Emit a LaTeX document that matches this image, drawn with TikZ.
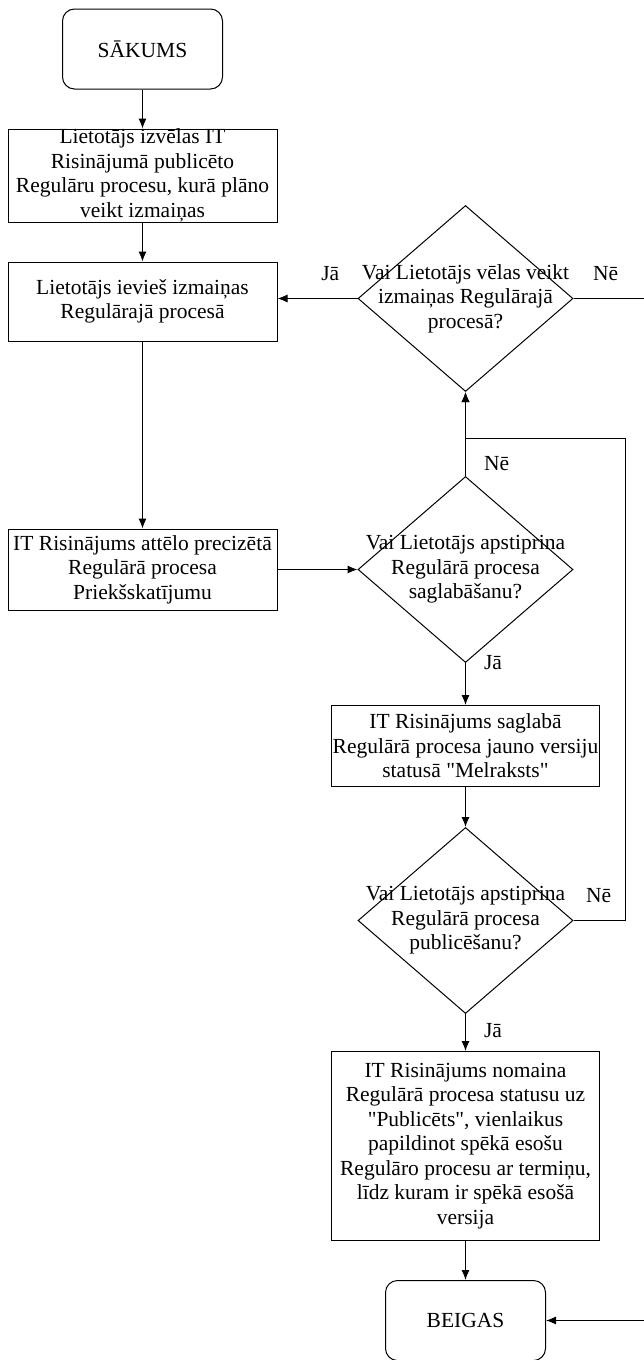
\documentclass[tikz,border=0pt]{standalone}
\usepackage{fontspec}
\setmainfont{Liberation Serif}
\usetikzlibrary{arrows.meta,positioning,shapes.geometric}

\begin{document}
\begin{tikzpicture}[x=1pt,y=-1pt,
  every node/.style={font=\fontsize{21.5}{24.5}\selectfont},
  terminal/.style={draw,rounded corners=12pt,minimum width=160pt,minimum height=80pt,align=center,line width=1pt},
  process/.style={draw,minimum width=269pt,align=center,inner sep=0pt,line width=1pt},
  decision/.style={draw,diamond,inner sep=0pt,minimum width=215pt,minimum height=186pt,line width=1pt},
  question/.style={align=center,inner sep=0pt},
  answer/.style={inner sep=0pt},
  arrow/.style={-{Latex[length=10pt,width=8pt]},line width=1pt}]
  \useasboundingbox (0,0) rectangle (644,1360);
  \node[terminal] (start) at (142.5,49) {SĀKUMS};
  \node[process,minimum height=93pt,below=39pt of start] (pick) {Lietotājs izvēlas IT\\Risinājumā publicēto\\Regulāru procesu, kurā plāno\\veikt izmaiņas};
  \node[process,minimum height=79pt,below=39pt of pick] (edit) {Lietotājs ievieš izmaiņas\\Regulārajā procesā};
  \node[process,minimum height=81pt,below=187pt of edit] (preview) {IT Risinājums attēlo precizētā\\Regulārā procesa\\Priekšskatījumu};
  \node[decision,right=80pt of preview,
    label={[question]center:Vai Lietotājs apstiprina\\Regulārā procesa\\saglabāšanu?}] (save) {};
  \node[decision,above=84pt of save,
    label={[question]center:Vai Lietotājs vēlas veikt\\izmaiņas Regulārajā\\procesā?}] (want) {};
  \node[process,minimum width=268pt,minimum height=81pt,below=42pt of save] (draft) {IT Risinājums saglabā\\Regulārā procesa jauno versiju\\statusā \textquotedbl Melraksts\textquotedbl};
  \node[decision,below=40pt of draft,
    label={[question]center:Vai Lietotājs apstiprina\\Regulārā procesa\\publicēšanu?}] (publish) {};
  \node[process,minimum width=268pt,minimum height=189pt,below=37pt of publish] (done) {IT Risinājums nomaina\\Regulārā procesa statusu uz\\\textquotedbl Publicēts\textquotedbl, vienlaikus\\papildinot spēkā esošu\\Regulāro procesu ar termiņu,\\līdz kuram ir spēkā esošā\\versija};
  \node[terminal,below=39pt of done] (stop) {BEIGAS};
  \coordinate (rim) at (652,0);
  \coordinate (loop) at (625,438);

  \draw[arrow] (start) -- (pick);
  \draw[arrow] (pick) -- (edit);
  \draw[arrow] (edit) -- (preview);
  \draw[arrow] (preview) -- (save);
  \draw[arrow] (want.west) -- node[answer,pos=0.34,above=17pt]{Jā} (edit.east |- want.west);
  \draw[arrow] (want.east) -- node[answer,pos=0.41,above=17pt]{Nē} (want.east -| rim) |- (stop.east);
  \draw[arrow] (save.north) -- node[answer,pos=0.15,right=18pt]{Nē} (want.south);
  \draw[arrow] (save.south) -- node[answer,pos=0,right=18pt]{Jā} (draft);
  \draw[arrow] (draft) -- (publish);
  \draw[arrow] (publish.east) -- node[answer,pos=0.49,above=17pt]{Nē} (publish.east -| loop) |- (want.south |- loop) -- (want.south);
  \draw[arrow] (publish) -- node[answer,pos=0.45,right=18pt]{Jā} (done);
  \draw[arrow] (done) -- (stop);
\end{tikzpicture}
\end{document}
